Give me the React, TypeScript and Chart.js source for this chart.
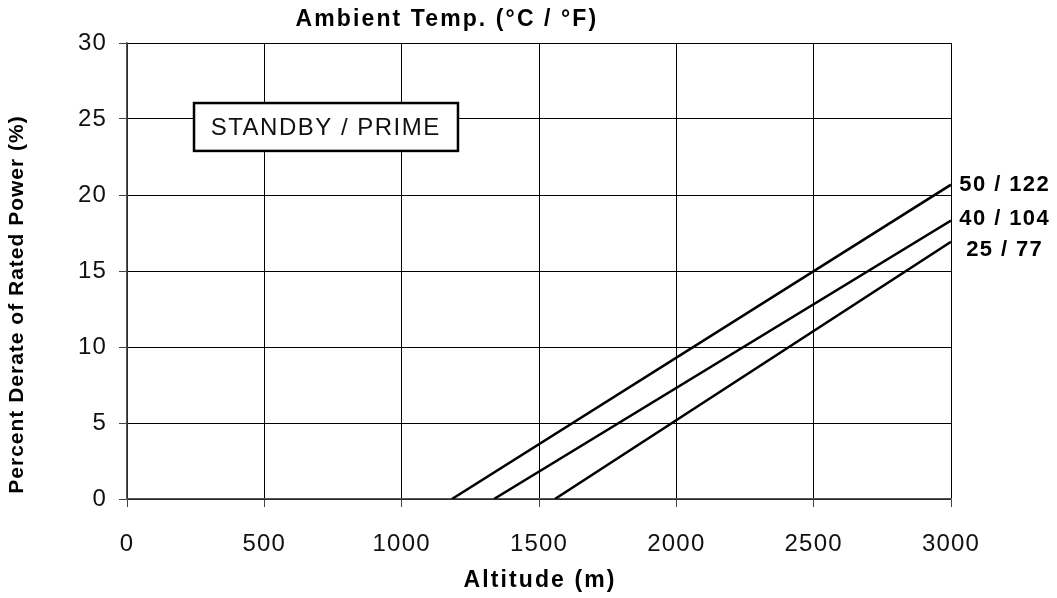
import React, { useEffect, useRef } from "react";
import { Chart, registerables } from "chart.js";

Chart.register(...registerables);

const seriesLabels = ["50 / 122", "40 / 104", "25 / 77"];
const altitude50 = [1183, 3000];
const derate50 = [0, 20.68];
const altitude40 = [1336, 3000];
const derate40 = [0, 18.32];
const altitude25 = [1558, 3000];
const derate25 = [0, 16.92];
const xTicks = [0, 500, 1000, 1500, 2000, 2500, 3000];
const yTicks = [0, 5, 10, 15, 20, 25, 30];
const topTitle = "Ambient Temp. (°C / °F)";
const xTitle = "Altitude (m)";
const yTitle = "Percent Derate of Rated Power (%)";
const boxText = "STANDBY / PRIME";

const FONT = "'Liberation Sans', Arial, sans-serif";

function txt(ctx: any, s: string, x: number, y: number, font: string, ls: number, rot = 0) {
  ctx.save();
  ctx.translate(x, y);
  if (rot) ctx.rotate(rot);
  ctx.font = font;
  ctx.letterSpacing = ls + "px";
  ctx.textAlign = "left";
  ctx.textBaseline = "middle";
  const w = ctx.measureText(s).width - ls;
  ctx.fillText(s, -w / 2, 0);
  ctx.restore();
}

export default function App() {
  const ref = useRef<HTMLCanvasElement | null>(null);
  useEffect(() => {
    if (!ref.current) return;
    const mk = (xs: number[], ys: number[]) => xs.map((x, i) => ({ x, y: ys[i] }));
    const datasets = [
      { label: seriesLabels[0], data: mk(altitude50, derate50) },
      { label: seriesLabels[1], data: mk(altitude40, derate40) },
      { label: seriesLabels[2], data: mk(altitude25, derate25) },
    ].map((d) => ({
      ...d,
      showLine: true,
      borderColor: "#000",
      borderWidth: 2.5,
      pointRadius: 0,
      fill: false,
    }));

    const overlay = {
      id: "overlay",
      beforeDraw(chart: any) {
        chart.ctx.letterSpacing = "1.2px";
      },
      afterDraw(chart: any) {
        const ctx = chart.ctx;
        const { chartArea } = chart;
        const xs = chart.scales.x;
        const ys = chart.scales.y;
        ctx.save();
        ctx.fillStyle = "#000";
        // top title
        txt(ctx, topTitle, chartArea.left + (chartArea.right - chartArea.left) * 0.387, 20, `bold 23px ${FONT}`, 2.1);
        // axis titles
        txt(ctx, xTitle, (chartArea.left + chartArea.right) / 2, 581, `bold 23px ${FONT}`, 2.1);
        txt(ctx, yTitle, 17, 305, `bold 21px ${FONT}`, 1, -Math.PI / 2);
        // box
        const bx1 = xs.getPixelForValue(244);
        const bx2 = xs.getPixelForValue(1205);
        const by1 = ys.getPixelForValue(26.05);
        const by2 = ys.getPixelForValue(22.9);
        ctx.fillStyle = "#fff";
        ctx.fillRect(bx1, by1, bx2 - bx1, by2 - by1);
        ctx.strokeStyle = "#000";
        ctx.lineWidth = 2.5;
        ctx.strokeRect(bx1, by1, bx2 - bx1, by2 - by1);
        ctx.fillStyle = "#111";
        txt(ctx, boxText, (bx1 + bx2) / 2 - 1, (by1 + by2) / 2 + 1, `24px ${FONT}`, 1.5);
        // series labels
        ctx.fillStyle = "#000";
        const offs = [0, -2, 8];
        chart.data.datasets.forEach((ds: any, i: number) => {
          const meta = chart.getDatasetMeta(i);
          const last = meta.data[meta.data.length - 1];
          txt(ctx, ds.label, last.x + 53, last.y + offs[i], `bold 22px ${FONT}`, 1.4);
        });
        ctx.restore();
      },
    };

    const chart = new Chart(ref.current, {
      type: "scatter",
      data: { datasets: datasets as any },
      options: {
        animation: false,
        responsive: false,
        maintainAspectRatio: false,
        layout: { padding: { top: 43, right: 106, left: 0, bottom: 0 } },
        plugins: { legend: { display: false }, tooltip: { enabled: false } },
        scales: {
          x: {
            type: "linear",
            min: 0,
            max: 3000,
            afterFit: (s: any) => { s.height = 99; },
            afterBuildTicks: (s: any) => { s.ticks = xTicks.map((v) => ({ value: v })); },
            ticks: {
              color: "#111",
              font: { family: FONT, size: 24 },
              padding: 23,
              maxRotation: 0,
              callback: (v: any) => String(v),
            },
            grid: { color: "#000", lineWidth: 1, tickLength: 8, tickColor: "#444" },
            border: { color: "#555", width: 1.5 },
          },
          y: {
            type: "linear",
            min: 0,
            max: 30,
            afterFit: (s: any) => { s.width = 127; },
            afterBuildTicks: (s: any) => { s.ticks = yTicks.map((v) => ({ value: v })); },
            ticks: {
              color: "#111",
              font: { family: FONT, size: 24 },
              padding: 12,
              callback: (v: any) => String(v),
            },
            grid: { color: "#000", lineWidth: 1, tickLength: 8, tickColor: "#444" },
            border: { color: "#555", width: 1.5 },
          },
        },
      },
      plugins: [overlay],
    });
    return () => chart.destroy();
  }, []);
  return (
    <div style={{ position: "fixed", left: 0, top: 0, width: 1057, height: 598, background: "#fff" }}>
      <canvas ref={ref} width={1057} height={598} style={{ width: 1057, height: 598 }} />
    </div>
  );
}
